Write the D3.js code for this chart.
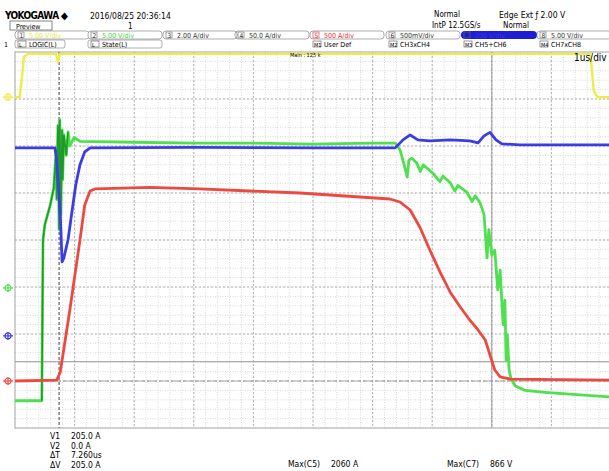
<!DOCTYPE html>
<meta charset="utf-8">
<head>
<script src="https://cdn.jsdelivr.net/npm/d3@7"></script>
<style>
  body { margin: 0; background: #fff; }
  text { font-family: "DejaVu Sans Condensed", "Liberation Sans", sans-serif; }
</style>
<script>

// time in us (1 us/div), values in each channel's own unit
var yelT = [0, 0.08, 0.12, 0.15, 0.22, 0.69, 0.72, 0.75, 9.65, 9.68, 9.71, 9.77, 10];
var yelV = [0, 0, 2.3, 4.3, 4.6, 4.6, 3.7, 4.6, 4.6, 2.9, 0.7, 0, 0];

var grnT = [0, 0.45, 0.47, 0.50, 0.59, 0.65, 0.69, 0.70, 0.72, 0.74, 0.75, 0.77, 0.79, 0.80, 0.82, 0.86, 0.89, 0.92, 0.99,
            1.09, 2.0, 3.0, 4.0, 5.0, 6.0, 6.38, 6.46, 6.53, 6.58, 6.61, 6.66, 6.74, 6.80, 6.85, 7.01, 7.13, 7.18, 7.30,
            7.38, 7.43, 7.58, 7.67, 7.72, 7.80, 7.87, 7.92, 7.95, 8.00, 8.05, 8.10, 8.14, 8.19, 8.22, 8.24, 8.26, 8.29,
            8.32, 8.39, 8.56, 8.89, 9.31, 10];
var grnV = [-12.0, -12.0, 5.1, 6.7, 8.8, 10.6, 14.7, 9.4, 17.3, 6.2, 17.9, 7.8, 16.8, 11.5, 16.3, 14.1, 16.6, 15.1, 16.0,
            15.6, 15.5, 15.4, 15.4, 15.3, 15.4, 15.4, 14.7, 13.1, 11.8, 13.6, 13.8, 13.3, 12.4, 13.1, 12.2, 11.3, 11.9, 11.2,
            10.3, 10.9, 10.2, 9.2, 9.8, 9.1, 7.8, 3.2, 6.2, 3.5, 4.0, -0.2, 1.9, -3.9, -1.3, -7.7, -5.0, -8.7,
            -9.6, -10.4, -10.9, -11.1, -11.3, -11.6];

var bluT = [0, 0.67, 0.70, 0.76, 0.79, 0.82, 0.89, 0.96, 1.02, 1.09, 1.17, 1.26, 3.0, 5.0, 6.38, 6.51, 6.63, 6.76, 6.96,
            7.30, 7.63, 7.77, 7.87, 7.97, 8.07, 8.17, 8.47, 10];
var bluV = [800, 800, 749, 515, 315, 332, 409, 536, 643, 728, 783, 800, 802, 800, 800, 834, 855, 834, 830,
            834, 830, 821, 851, 866, 834, 817, 813, 813];

var redT = [0, 0.70, 0.76, 0.92, 1.09, 1.17, 1.26, 1.34, 2.27, 3.10, 4.78, 6.29, 6.46, 6.63, 6.80, 6.96, 7.13, 7.30,
            7.47, 7.63, 7.77, 7.89, 7.97, 8.05, 8.14, 8.31, 10];
var redA = [0, 10, 96, 755, 1500, 1872, 2021, 2043, 2060, 2043, 2000, 1936, 1904, 1819, 1628, 1394, 1160, 947,
            787, 649, 543, 436, 277, 117, 43, 21, 10];

var cursorT = [0.74, 8.0];     // us
var cursorA = [205, 0];        // A on C5

var row1Labels = ["5.00 V/div", "5.00 V/div", "2.00 A/div", "50.0 A/div", "500 A/div", "500mV/div", "200 V/div", "5.00 V/div"];
var row2Labels = ["LOGIC(L)", "State(L)", "", "", "User Def", "CH3xCH4", "CH5+CH6", "CH7xCH8"];
var row2Tags = ["L", "L", "", "", "M1", "M2", "M3", "M4"];
var measLabels = ["V1", "V2", "\u0394T", "\u0394V"];
var measValues = ["205.0 A", "0.0 A", "7.260us", "205.0 A"];

function draw() {
  var svg = d3.select("#scope");
  var x = d3.scaleLinear().domain([0, 10]).range([15, 611]);
  var y = d3.scaleLinear().domain([-4, 4]).range([428, 52]);

  // grid
  var grid = svg.append("g");
  var minorX = d3.range(0, 50).map(function(i) { return i / 5; });
  var minorY = d3.range(-20, 21).map(function(i) { return i / 5; });
  grid.selectAll(".mx").data(minorX).enter().append("line")
    .attr("x1", function(d) { return x(d); }).attr("x2", function(d) { return x(d); })
    .attr("y1", y(4)).attr("y2", y(-4))
    .attr("stroke", "#cfcfcf").attr("stroke-width", 0.8).attr("stroke-dasharray", "1,1.5");
  grid.selectAll(".my").data(minorY).enter().append("line")
    .attr("y1", function(d) { return y(d); }).attr("y2", function(d) { return y(d); })
    .attr("x1", x(0)).attr("x2", x(10))
    .attr("stroke", "#cfcfcf").attr("stroke-width", 0.8).attr("stroke-dasharray", "1,1.5");
  grid.selectAll(".Mx").data(d3.range(1, 10)).enter().append("line")
    .attr("x1", function(d) { return x(d); }).attr("x2", function(d) { return x(d); })
    .attr("y1", y(4)).attr("y2", y(-4))
    .attr("stroke", "#aaa").attr("stroke-width", 0.9).attr("stroke-dasharray", "2,2");
  grid.selectAll(".My").data(d3.range(-3, 4)).enter().append("line")
    .attr("y1", function(d) { return y(d); }).attr("y2", function(d) { return y(d); })
    .attr("x1", x(0)).attr("x2", x(10))
    .attr("stroke", "#aaa").attr("stroke-width", 0.9).attr("stroke-dasharray", "2,2");
  grid.append("rect").attr("x", x(0)).attr("y", y(4))
    .attr("width", x(10) - x(0)).attr("height", y(-4) - y(4))
    .attr("fill", "none").attr("stroke", "#aaa").attr("stroke-width", 1);

  // channels: unit per div and ground offset in div
  var chans = [
    { t: yelT, v: yelV, perDiv: 5, off: 3.04, color: "#eded4a", w: 2.4 },
    { t: grnT, v: grnV, perDiv: 5, off: -1.02, color: "#4fe04f", w: 2.8 },
    { t: bluT, v: bluV, perDiv: 200, off: -2.04, color: "#3c3ce6", w: 2.8 },
    { t: redT, v: redA, perDiv: 500, off: -3.0, color: "#ec4a40", w: 2.8 }
  ];
  function yv(c, v) { return y(v / c.perDiv + c.off); }

  // cursors
  var redC = chans[3];
  svg.append("line").attr("x1", x(cursorT[0])).attr("x2", x(cursorT[0]))
    .attr("y1", y(4)).attr("y2", y(-4))
    .attr("stroke", "#777").attr("stroke-width", 1.4).attr("stroke-dasharray", "3,2");
  svg.append("line").attr("x1", x(cursorT[1])).attr("x2", x(cursorT[1]))
    .attr("y1", y(4)).attr("y2", y(-4))
    .attr("stroke", "#999").attr("stroke-width", 1);
  svg.append("line").attr("y1", yv(redC, cursorA[0])).attr("y2", yv(redC, cursorA[0]))
    .attr("x1", x(0)).attr("x2", x(10))
    .attr("stroke", "#999").attr("stroke-width", 1);
  svg.append("line").attr("y1", yv(redC, cursorA[1])).attr("y2", yv(redC, cursorA[1]))
    .attr("x1", x(0)).attr("x2", x(10))
    .attr("stroke", "#999").attr("stroke-width", 1).attr("stroke-dasharray", "4,2");

  // traces
  chans.forEach(function(c) {
    var pts = c.t.map(function(t, i) { return [t, c.v[i]]; });
    var line = d3.line().x(function(d) { return x(d[0]); }).y(function(d) { return yv(c, d[1]); });
    svg.append("path").datum(pts).attr("d", line)
      .attr("fill", "none").attr("stroke", c.color)
      .attr("stroke-width", c.w).attr("stroke-linejoin", "round");
    if (c === chans[1]) {
      var ring = pts.filter(function(d) { return d[0] >= 0.45 && d[0] <= 0.9; });
      svg.append("path").datum(ring).attr("d", line)
        .attr("fill", "none").attr("stroke", "#1f9a2a").attr("stroke-width", 1.6);
    }
    // ground marker
    var gy = y(c.off);
    var m = svg.append("g").attr("transform", "translate(8," + gy + ")");
    m.append("circle").attr("r", 3).attr("fill", "none").attr("stroke", c.color).attr("stroke-width", 1.2);
    m.append("line").attr("x1", -5).attr("x2", 5).attr("stroke", c.color).attr("stroke-width", 1.2);
    m.append("line").attr("y1", -4).attr("y2", 4).attr("stroke", c.color).attr("stroke-width", 1.2);
  });

  // header
  svg.append("text").attr("x", 5).attr("y", 19).attr("font-size", 10).attr("font-weight", "bold")
    .attr("letter-spacing", -0.6).text("YOKOGAWA \u25C6");
  svg.append("text").attr("x", 90).attr("y", 19).attr("font-size", 8.5).text("2016/08/25 20:36:14");
  svg.append("rect").attr("x", 10).attr("y", 21).attr("width", 42).attr("height", 9)
    .attr("fill", "none").attr("stroke", "#666").attr("stroke-width", 0.8);
  svg.append("text").attr("x", 16).attr("y", 28.5).attr("font-size", 7).text("Preview");
  svg.append("text").attr("x", 128).attr("y", 29).attr("font-size", 8).text("1");
  svg.append("text").attr("x", 434).attr("y", 17).attr("font-size", 8).text("Normal");
  svg.append("text").attr("x", 499).attr("y", 18).attr("font-size", 8.5).text("Edge Ext \u0192 2.00 V");
  svg.append("text").attr("x", 432).attr("y", 28).attr("font-size", 8).text("IntP 12.5GS/s");
  svg.append("text").attr("x", 503).attr("y", 28).attr("font-size", 8).text("Normal");

  var segX = [15, 88, 163, 235, 310, 386, 461, 537];
  var segColors = ["#e6e640", "#3fd63f", "#333", "#333", "#e03030", "#333", "#3a3ae6", "#333"];
  row1Labels.forEach(function(lab, i) {
    var g = svg.append("g").attr("transform", "translate(" + segX[i] + ",31)");
    if (i === 6) {
      g.append("rect").attr("width", 76).attr("height", 8).attr("rx", 4).attr("fill", "#1e1ed4");
    } else {
      g.append("rect").attr("width", 74).attr("height", 8).attr("rx", 3)
        .attr("fill", i < 2 ? "#fff" : "none").attr("stroke", "#777").attr("stroke-width", 0.6);
    }
    g.append("rect").attr("x", 3).attr("y", 1).attr("width", 6).attr("height", 6)
      .attr("fill", "none").attr("stroke", i === 4 ? "#e03030" : "#666").attr("stroke-width", 0.6);
    g.append("text").attr("x", 4.5).attr("y", 6.5).attr("font-size", 6.5)
      .attr("fill", i === 4 ? "#e03030" : "#333").text(i + 1);
    g.append("text").attr("x", 14).attr("y", 7).attr("font-size", 7).attr("fill", segColors[i]).text(lab);
  });
  row2Labels.forEach(function(lab, i) {
    if (!lab) return;
    var g = svg.append("g").attr("transform", "translate(" + segX[i] + ",40)");
    if (i < 2) {
      g.append("rect").attr("width", i === 0 ? 50 : 74).attr("height", 8).attr("rx", 2)
        .attr("fill", "none").attr("stroke", "#777").attr("stroke-width", 0.6);
    }
    g.append("rect").attr("x", 3).attr("y", 1).attr("width", 8).attr("height", 6)
      .attr("fill", "none").attr("stroke", "#555").attr("stroke-width", 0.6);
    g.append("text").attr("x", 4).attr("y", 6.5).attr("font-size", 5.5).text(row2Tags[i]);
    g.append("text").attr("x", 14).attr("y", 7).attr("font-size", 7).text(lab);
  });
  svg.append("text").attr("x", 4).attr("y", 47).attr("font-size", 7).text("1");

  svg.append("text").attr("x", 290).attr("y", 57).attr("font-size", 5.5).text("Main : 125 k");
  svg.append("text").attr("x", 574).attr("y", 61).attr("font-size", 10).text("1us/div");

  // measurements
  measLabels.forEach(function(lab, i) {
    svg.append("text").attr("x", 50).attr("y", 439 + i * 9.5).attr("font-size", 8.5).text(lab);
    svg.append("text").attr("x", 71).attr("y", 439 + i * 9.5).attr("font-size", 8.5).text(measValues[i]);
  });
  svg.append("text").attr("x", 288).attr("y", 467).attr("font-size", 8.5).text("Max(C5)");
  svg.append("text").attr("x", 331).attr("y", 467).attr("font-size", 8.5).text("2060 A");
  svg.append("text").attr("x", 447).attr("y", 467).attr("font-size", 8.5).text("Max(C7)");
  svg.append("text").attr("x", 490).attr("y", 467).attr("font-size", 8.5).text("866 V");
}

document.addEventListener("DOMContentLoaded", draw);
</script>
</head>
<body>
<svg id="scope" width="609" height="471"></svg>
</body>
